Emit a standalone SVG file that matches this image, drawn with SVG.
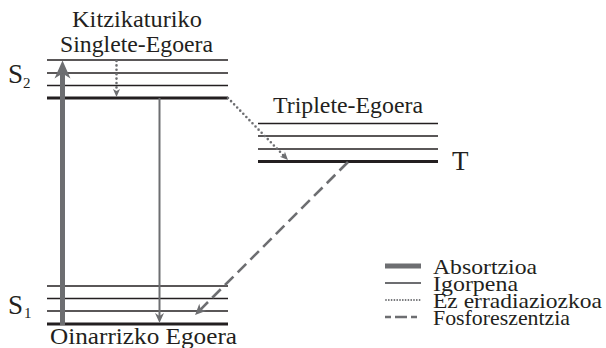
<svg xmlns="http://www.w3.org/2000/svg" width="606" height="348" viewBox="0 0 606 348">
<style>
text{font-family:"Liberation Serif","Times New Roman",serif;fill:#231f20}
.lbl{font-size:23px}
.lg{font-size:22px}
.big{font-size:27px}
.sub{font-size:15px}
.lv{stroke:#231f20;stroke-width:1.5}
.lvb{stroke:#231f20;stroke-width:3}
.abs{stroke:#6d6e71;stroke-width:5;fill:none}
.emi{stroke:#6d6e71;stroke-width:2;fill:none}
.nr{stroke:#6d6e71;stroke-width:2.6;fill:none;stroke-dasharray:0 4.4;stroke-linecap:round}
.ph{stroke:#6d6e71;stroke-width:2.6;fill:none;stroke-dasharray:12 6}
.hd{fill:#6d6e71;stroke:none}
</style>
<defs>
<marker id="hAbs" markerUnits="userSpaceOnUse" orient="auto" markerWidth="20" markerHeight="18" refX="5" refY="8" viewBox="0 0 20 16" overflow="visible">
<path class="hd" d="M18,8 L0,0 L5,8 L0,16 Z"/>
</marker>
<marker id="hEmi" markerUnits="userSpaceOnUse" orient="auto" markerWidth="12" markerHeight="10" refX="3" refY="4.5" viewBox="0 0 12 9" overflow="visible">
<path class="hd" d="M10,4.5 L0,0 L3,4.5 L0,9 Z"/>
</marker>
<marker id="hSm" markerUnits="userSpaceOnUse" orient="auto" markerWidth="10" markerHeight="8" refX="2" refY="3.5" viewBox="0 0 10 7" overflow="visible">
<path class="hd" d="M8,3.5 L0,0 L2,3.5 L0,7 Z"/>
</marker>
<marker id="hPh" markerUnits="userSpaceOnUse" orient="auto" markerWidth="13" markerHeight="11" refX="3" refY="5" viewBox="0 0 13 10" overflow="visible">
<path class="hd" d="M11,5 L0,0 L3,5 L0,10 Z"/>
</marker>
</defs>

<g id="S2">
<line class="lv" x1="47" y1="60" x2="228" y2="60"/>
<line class="lv" x1="47" y1="73" x2="228" y2="73"/>
<line class="lv" x1="47" y1="85.5" x2="228" y2="85.5"/>
<line class="lvb" x1="47" y1="98" x2="228" y2="98"/>
<text class="lbl" x="72" y="27" textLength="130" lengthAdjust="spacingAndGlyphs">Kitzikaturiko</text>
<text class="lbl" x="60" y="52" textLength="153" lengthAdjust="spacingAndGlyphs">Singlete-Egoera</text>
<text class="big" x="8" y="83">S</text>
<text class="sub" x="23" y="88">2</text>
</g>

<g id="T">
<line class="lv" x1="258" y1="123.5" x2="438" y2="123.5"/>
<line class="lv" x1="258" y1="136" x2="438" y2="136"/>
<line class="lv" x1="258" y1="149" x2="438" y2="149"/>
<line class="lvb" x1="258" y1="161.5" x2="438" y2="161.5"/>
<text class="lbl" x="273" y="113" textLength="150" lengthAdjust="spacingAndGlyphs">Triplete-Egoera</text>
<text class="big" x="452" y="170">T</text>
</g>

<g id="S1">
<line class="lv" x1="47" y1="286" x2="228" y2="286"/>
<line class="lv" x1="47" y1="298.5" x2="228" y2="298.5"/>
<line class="lv" x1="47" y1="311" x2="228" y2="311"/>
<line class="lvb" x1="47" y1="324" x2="228" y2="324"/>
<text class="lbl" x="50" y="344" textLength="187" lengthAdjust="spacingAndGlyphs">Oinarrizko Egoera</text>
<text class="big" x="8" y="314">S</text>
<text class="sub" x="24" y="318">1</text>
</g>

<g id="connectors">
<line class="abs" x1="62.5" y1="325" x2="62.5" y2="73.5" marker-end="url(#hAbs)"/>
<line class="nr" x1="116.5" y1="61" x2="116.5" y2="91" marker-end="url(#hSm)"/>
<line class="emi" x1="159.5" y1="98" x2="159.5" y2="316" marker-end="url(#hEmi)"/>
<line class="nr" x1="228" y1="98" x2="283.8" y2="155.7" marker-end="url(#hSm)"/>
<line class="ph" x1="348" y1="162" x2="200.7" y2="309.3" marker-end="url(#hPh)"/>
</g>

<g id="legend">
<line class="abs" x1="385" y1="266" x2="421" y2="266"/>
<text class="lg" x="433" y="274" textLength="104" lengthAdjust="spacingAndGlyphs">Absortzioa</text>
<line class="emi" x1="385" y1="283" x2="421" y2="283"/>
<text class="lg" x="433" y="291" textLength="85" lengthAdjust="spacingAndGlyphs">Igorpena</text>
<line class="nr" x1="386" y1="300" x2="421" y2="300" style="stroke-width:1.8;stroke-dasharray:0 2.8"/>
<text class="lg" x="433" y="308" textLength="169" lengthAdjust="spacingAndGlyphs">Ez erradiaziozkoa</text>
<line class="ph" x1="385" y1="317" x2="421" y2="317" style="stroke-dasharray:6 4 12 4 6"/>
<text class="lg" x="433" y="325" textLength="137" lengthAdjust="spacingAndGlyphs">Fosforeszentzia</text>
</g>
</svg>
